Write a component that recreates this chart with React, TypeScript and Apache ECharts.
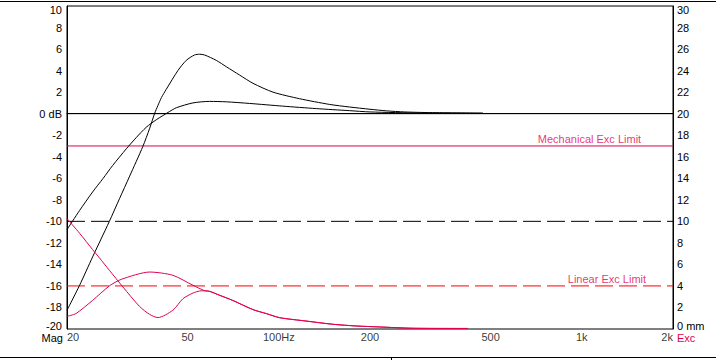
import React, { useEffect, useRef } from 'react';
import * as echarts from 'echarts';

const FONT = '"Liberation Sans", Arial, sans-serif';
const CRIMSON = '#e0004f';
const RED = '#ff0000';

// Magnitude curves (dB, left axis)
const freqMag1 = [20, 22, 24.3, 25.9, 27.6, 29.8, 32.2, 35.6, 37.5, 38.9, 39.9, 41.0, 42.5, 46.5, 49.5, 52.7, 54.8, 56.9, 62.2, 67.1, 74.3, 82.2, 95.7, 117, 147, 171, 200, 227, 260, 315, 472];
const mag1 = [-18.26, -15.95, -13.3, -11.65, -10.0, -7.9, -5.8, -3.04, -1.35, 0, 0.75, 1.5, 2.25, 4.02, 4.95, 5.45, 5.52, 5.45, 4.95, 4.36, 3.58, 2.82, 2.0, 1.39, 0.86, 0.62, 0.41, 0.26, 0.16, 0.1, 0.06];

const freqMag2 = [20, 22, 24.3, 26.3, 28.3, 31.4, 33.9, 36.5, 39.4, 43.6, 45.9, 52.1, 59.1, 67.1, 80.1, 103, 133, 171, 200, 294, 472];
const mag2 = [-10.77, -9.0, -7.27, -6.02, -4.81, -3.26, -2.2, -1.27, -0.57, 0.2, 0.55, 1.0, 1.14, 1.1, 0.95, 0.7, 0.47, 0.28, 0.16, 0.06, 0.02];

// Excursion curves (mm, right axis)
const freqExcA = [20, 22, 24.3, 25.6, 27.6, 30.6, 34.7, 37.5, 39.9, 44.7, 48.3, 52.1, 54.8, 57];
const excA = [10.25, 8.9, 7.37, 6.6, 5.45, 3.9, 2.1, 1.35, 1.06, 1.74, 2.82, 3.34, 3.53, 3.55];
const freqExcB = [20, 21.4, 24.3, 27.6, 30.2, 37.5, 44.7, 52.1, 57];
const excB = [1.18, 1.43, 2.66, 4.0, 4.61, 5.29, 4.99, 4.06, 3.55];
const freqExcTail = [59.1, 63.8, 70.4, 82.2, 91, 100.7, 123, 150.7, 180, 215, 277, 421];
const excTail = [3.5, 3.13, 2.66, 1.8, 1.43, 1.05, 0.74, 0.44, 0.28, 0.19, 0.07, 0.05];

// Reference lines
const zeroDb = 0;
const dashedDb = -10;
const mechLimitMm = 17;
const linearLimitMm = 4;

// Axis tick labels
const xTickFreqs = [20, 50, 100, 200, 500, 1000, 2000];
const xTickLabels = ['20', '50', '100Hz', '200', '500', '1k', '2k'];

const limitLabelFreqs = [1570, 1630];
const limitLabelTexts = ['Mechanical Exc Limit', 'Linear Exc Limit'];

const pairs = (xs: number[], ys: number[]) => xs.map((x, i) => [x, ys[i]]);

export default function App() {
  const ref = useRef<HTMLDivElement>(null);
  useEffect(() => {
    const chart = echarts.init(ref.current!, null, { renderer: 'svg' });
    const textBase = { fontFamily: FONT, fontSize: 11, color: '#000' };
    const richBase = {
      t: { fontFamily: FONT, fontSize: 11, color: '#000', lineHeight: 11, padding: [7, 0, 0, 0] },
      b: { fontFamily: FONT, fontSize: 11, color: '#000', lineHeight: 11, padding: [0, 0, 6, 0] },
      n: { fontFamily: FONT, fontSize: 11, color: '#000', lineHeight: 11 },
    };
    const curve = (name: string, data: number[][], color: string, yAxisIndex: number) => ({
      name,
      type: 'line',
      yAxisIndex,
      data,
      smooth: 0.25,
      symbol: 'none',
      lineStyle: { color, width: 1 },
      silent: true,
      z: 3,
    });
    const hline = (name: string, value: number, yAxisIndex: number, color: string, dashed: boolean) => ({
      name,
      type: 'line',
      yAxisIndex,
      data: [[20, value], [2000, value]],
      symbol: 'none',
      lineStyle: { color, width: 1, type: dashed ? [18, 6] : 'solid' },
      silent: true,
      z: 2,
    });
    const option: any = {
      animation: false,
      backgroundColor: '#fff',
      grid: {
        left: 67,
        right: 43,
        top: 6,
        bottom: 31,
        containLabel: false,
        outerBoundsMode: 'none',
        show: true,
        borderColor: '#000',
        borderWidth: 1,
        backgroundColor: 'transparent',
      },
      xAxis: {
        type: 'log',
        logBase: 10,
        min: 20,
        max: 2000,
        axisLine: { show: true, lineStyle: { color: '#000', width: 1 } },
        axisTick: { show: false },
        axisLabel: { show: false },
        splitLine: { show: false },
        minorSplitLine: { show: false },
      },
      yAxis: [
        {
          type: 'value',
          min: -20,
          max: 10,
          interval: 2,
          axisLine: { show: true, lineStyle: { color: '#000', width: 1 } },
          axisTick: { show: false },
          splitLine: { show: false },
          axisLabel: {
            ...textBase,
            margin: 5,
            formatter: (v: number) => {
              const s = v === 0 ? '0 dB' : String(v);
              if (v === 10) return `{t|${s}}`;
              if (v === -20) return `{b|${s}}`;
              return `{n|${s}}`;
            },
            rich: richBase,
          },
        },
        {
          type: 'value',
          min: 0,
          max: 30,
          interval: 2,
          position: 'right',
          axisLine: { show: true, lineStyle: { color: '#000', width: 1 } },
          axisTick: { show: false },
          splitLine: { show: false },
          axisLabel: {
            ...textBase,
            margin: 4,
            formatter: (v: number) => {
              const s = v === 0 ? '0 mm' : String(v);
              if (v === 30) return `{t|${s}}`;
              if (v === 0) return `{b|${s}}`;
              return `{n|${s}}`;
            },
            rich: richBase,
          },
        },
      ],
      series: [
        hline('zero', zeroDb, 0, '#000', false),
        hline('dashed', dashedDb, 0, '#000', true),
        hline('mech', mechLimitMm, 1, CRIMSON, false),
        hline('linear', linearLimitMm, 1, RED, true),
        curve('mag1', pairs(freqMag1, mag1), '#000', 0),
        curve('mag2', pairs(freqMag2, mag2), '#000', 0),
        curve('excA', pairs(freqExcA.concat(freqExcTail), excA.concat(excTail)), CRIMSON, 1),
        curve('excB', pairs(freqExcB.concat(freqExcTail), excB.concat(excTail)), CRIMSON, 1),
        {
          name: 'xlabels',
          type: 'scatter',
          yAxisIndex: 0,
          symbolSize: 0.01,
          clip: false,
          silent: true,
          data: xTickFreqs.map((f, i) => ({
            value: [f, -20],
            label: {
              show: true,
              ...textBase,
              lineHeight: 11,
              position: [0, 3],
              verticalAlign: 'top',
              align: i === 0 ? 'left' : i === xTickFreqs.length - 1 ? 'right' : 'center',
              formatter: xTickLabels[i],
            },
          })),
        },
        {
          name: 'limitLabels',
          type: 'scatter',
          yAxisIndex: 1,
          symbolSize: 0.01,
          clip: false,
          silent: true,
          data: limitLabelFreqs.map((f, i) => ({
            value: [f, i === 0 ? mechLimitMm : linearLimitMm],
            label: {
              show: true,
              ...textBase,
              color: CRIMSON,
              lineHeight: 11,
              position: [0, -1],
              verticalAlign: 'bottom',
              align: 'right',
              formatter: limitLabelTexts[i],
            },
          })),
        },
      ],
      graphic: [
        { type: 'line', shape: { x1: 0, y1: 1.5, x2: 716, y2: 1.5 }, style: { stroke: '#000', lineWidth: 1 }, silent: true },
        { type: 'line', shape: { x1: 0, y1: 357.5, x2: 716, y2: 357.5 }, style: { stroke: '#000', lineWidth: 1 }, silent: true },
        { type: 'line', shape: { x1: 391.5, y1: 357, x2: 391.5, y2: 360 }, style: { stroke: '#000', lineWidth: 1 }, silent: true },
        { type: 'text', x: 63, y: 337.5, style: { text: 'Mag', fill: '#000', font: `11px ${FONT}`, lineHeight: 11, textAlign: 'right', textVerticalAlign: 'middle' }, silent: true },
        { type: 'text', x: 677, y: 337.5, style: { text: 'Exc', fill: CRIMSON, font: `11px ${FONT}`, lineHeight: 11, textAlign: 'left', textVerticalAlign: 'middle' }, silent: true },
      ],
    };
    chart.setOption(option);
    return () => chart.dispose();
  }, []);
  return (
    <div
      ref={ref}
      style={{ position: 'fixed', left: 0, top: 0, width: 716, height: 360, background: '#fff' }}
    />
  );
}
